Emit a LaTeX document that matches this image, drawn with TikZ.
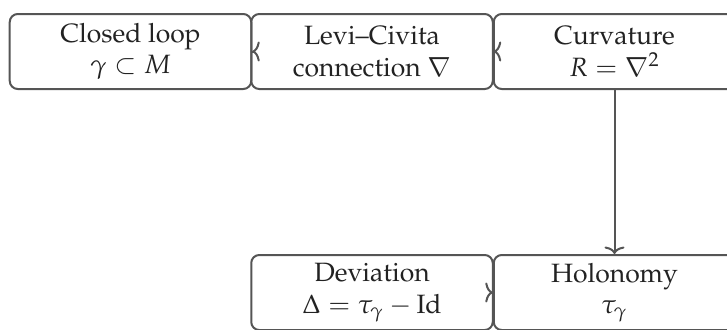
\documentclass[tikz,border=0pt]{standalone}
\usepackage[T1]{fontenc}
\usepackage{mathpazo}
\usetikzlibrary{arrows.meta}
\definecolor{edge}{HTML}{555555}
\definecolor{ink}{HTML}{222222}
\tikzset{
  box/.style={draw=edge, line width=0.8pt, rounded corners=3.2pt,
    minimum width=96.6pt, minimum height=30pt, inner sep=0pt,
    align=center, text=ink, font=\fontsize{10.6}{12.6}\selectfont},
  arr/.style={draw=edge, line width=0.8pt, -{To[length=3pt,width=8pt]}}
}
\begin{document}
\begin{tikzpicture}[x=0.4pt, y=-0.4pt]
  \useasboundingbox (0,0) rectangle (727,329);
  % top row
  \node[box] (loop) at (130.5,51.5) {Closed loop\\ $\gamma\subset M$};
  \node[box] (conn) at (372,51.5) {Levi--Civita\\ connection $\nabla$};
  \node[box] (curv) at (614.5,51.5) {Curvature\\ $R=\nabla^2$};
  % bottom row
  \node[box] (dev) at (372,292.5) {Deviation\\ $\Delta=\tau_\gamma-\mathrm{Id}$};
  \node[box] (hol) at (614.5,292.5) {Holonomy\\ $\tau_\gamma$};
  % connectors
  \draw[arr] ([xshift=0.05pt]loop.east) -- (loop.east);
  \draw[arr] ([xshift=0.05pt]conn.east) -- (conn.east);
  \draw[arr] (curv) -- (hol);
  \draw[arr] ([xshift=-0.05pt]hol.west) -- (hol.west);
\end{tikzpicture}
\end{document}
